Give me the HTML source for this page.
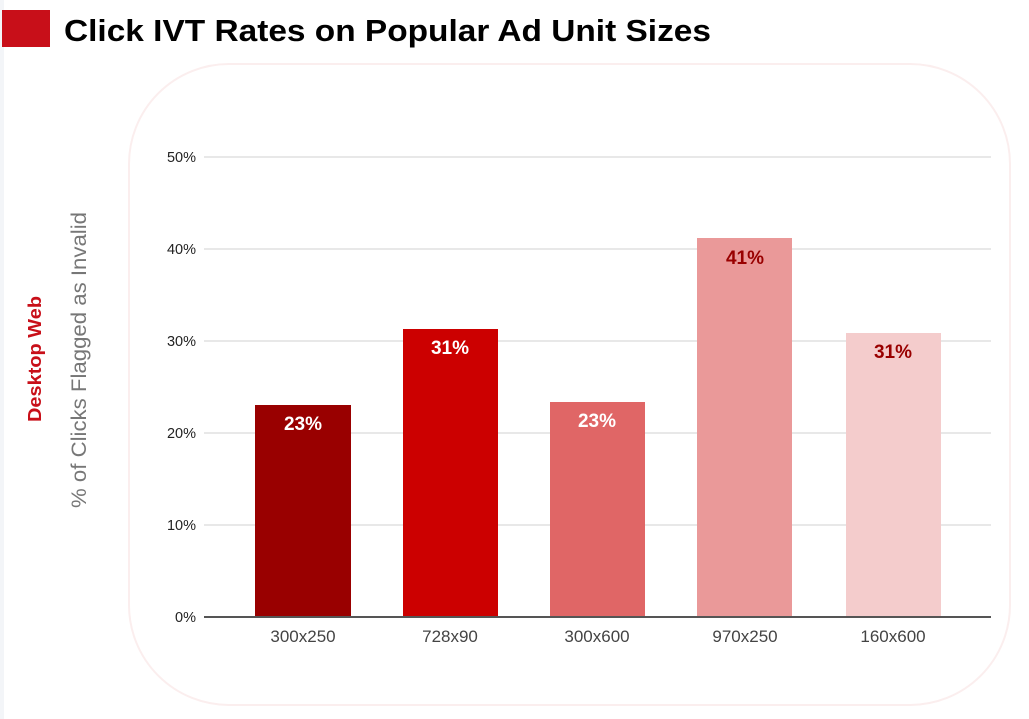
<!DOCTYPE html>
<html><head><meta charset="utf-8"><style>
html,body{margin:0;padding:0;background:#fff;}
body{width:1029px;height:719px;overflow:hidden;position:relative;font-family:"Liberation Sans",sans-serif;}
</style></head><body>
<svg width="1029" height="719" viewBox="0 0 1029 719" xmlns="http://www.w3.org/2000/svg" style="position:absolute;left:0;top:0">
<rect x="0" y="0" width="4" height="719" fill="#f3f5f8"/>
<rect x="2" y="10" width="48" height="37" fill="#c80f19"/>
<text x="64" y="41" font-family="Liberation Sans" font-weight="bold" font-size="31" fill="#000" textLength="647" lengthAdjust="spacingAndGlyphs">Click IVT Rates on Popular Ad Unit Sizes</text>
<rect x="129" y="64" width="881" height="641" rx="100" fill="#fff" stroke="#fbeeee" stroke-width="2"/>
<g stroke="#d0d0d0" stroke-width="1">
<line x1="204" y1="157" x2="991" y2="157"/>
<line x1="204" y1="249" x2="991" y2="249"/>
<line x1="204" y1="341" x2="991" y2="341"/>
<line x1="204" y1="433" x2="991" y2="433"/>
<line x1="204" y1="525" x2="991" y2="525"/>
</g>
<g font-family="Liberation Sans" font-size="14.5" fill="#222" text-anchor="end">
<text x="196" y="162">50%</text><text x="196" y="254">40%</text><text x="196" y="346">30%</text>
<text x="196" y="438">20%</text><text x="196" y="530">10%</text><text x="196" y="622">0%</text>
</g>
<rect x="255" y="405" width="96" height="212" fill="#990000"/>
<rect x="403" y="329" width="95" height="288" fill="#cc0000"/>
<rect x="550" y="402" width="95" height="215" fill="#e06666"/>
<rect x="697" y="238" width="95" height="379" fill="#ea9999"/>
<rect x="846" y="333" width="95" height="284" fill="#f4cccc"/>
<line x1="204" y1="617" x2="991" y2="617" stroke="#555" stroke-width="2"/>
<g font-family="Liberation Sans" font-weight="bold" font-size="19" text-anchor="middle">
<text x="303" y="430" fill="#fff">23%</text>
<text x="450" y="354" fill="#fff">31%</text>
<text x="597" y="427" fill="#fff">23%</text>
<text x="745" y="264" fill="#990000">41%</text>
<text x="893" y="358" fill="#990000">31%</text>
</g>
<g font-family="Liberation Sans" font-size="17" fill="#444" text-anchor="middle">
<text x="303" y="642">300x250</text><text x="450" y="642">728x90</text><text x="597" y="642">300x600</text>
<text x="745" y="642">970x250</text><text x="893" y="642">160x600</text>
</g>
<text transform="translate(86,360) rotate(-90)" font-family="Liberation Sans" font-size="21" fill="#777" text-anchor="middle" textLength="296" lengthAdjust="spacingAndGlyphs">% of Clicks Flagged as Invalid</text>
<text transform="translate(41,359) rotate(-90)" font-family="Liberation Sans" font-weight="bold" font-size="18" fill="#c80f19" text-anchor="middle" textLength="126" lengthAdjust="spacingAndGlyphs">Desktop Web</text>
</svg>
</body></html>
